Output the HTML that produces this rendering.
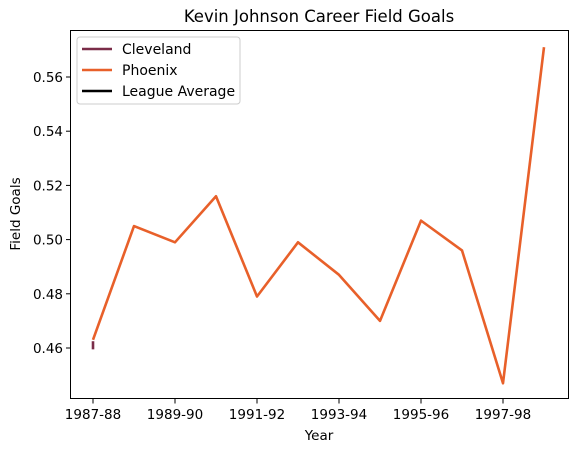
<!DOCTYPE html>
<html><head><meta charset="utf-8"><style>
body{margin:0;background:#fff;font-family:"DejaVu Sans","Liberation Sans",sans-serif;}
svg text{font-family:"DejaVu Sans","Liberation Sans",sans-serif;}
</style></head><body>
<svg id="chart" width="579" height="453">
<text x="319" y="22" font-size="16.5" text-anchor="middle">Kevin Johnson Career Field Goals</text>
<g id="axes"></g>
<g id="series"></g>
<rect x="70.5" y="30.5" width="498" height="368" fill="none" stroke="#000" stroke-width="1"/>
<text x="319" y="440" font-size="13.5" text-anchor="middle">Year</text>
<text x="20" y="214" font-size="13.5" text-anchor="middle" transform="rotate(-90 20 214)">Field Goals</text>
<g>
<rect x="77" y="37" width="163" height="67" rx="3" fill="#fff" fill-opacity="0.8" stroke="#ccc"/>
<line x1="82" y1="49" x2="112" y2="49" stroke="#7a2c48" stroke-width="2.5"/>
<text x="122" y="54" font-size="14">Cleveland</text>
<line x1="82" y1="70" x2="112" y2="70" stroke="#e8602a" stroke-width="2.5"/>
<text x="122" y="75" font-size="14">Phoenix</text>
<line x1="82" y1="91" x2="112" y2="91" stroke="#000" stroke-width="2.5"/>
<text x="122" y="96" font-size="14">League Average</text>
</g>
</svg>
<script>
const seasons=["1987-88","1988-89","1989-90","1990-91","1991-92","1992-93","1993-94","1994-95","1995-96","1996-97","1997-98","1998-99"];
const phoenixIdx=[0,1,2,3,4,5,6,7,8,9,10,11];
const phoenixFG=[0.463,0.505,0.499,0.516,0.479,0.499,0.487,0.470,0.507,0.496,0.447,0.571];
const clevelandIdx=[0,0];
const clevelandFG=[0.4625,0.4595];
const xTickIdx=[0,2,4,6,8,10];
const yTicks=[0.46,0.48,0.50,0.52,0.54,0.56];
const NS="http://www.w3.org/2000/svg";
function xs(i){return 93+i*41;}
function ys(v){return 348-(v-0.46)*2710;}
const ax=document.getElementById('axes'),se=document.getElementById('series');
function mk(t,a,p){const e=document.createElementNS(NS,t);for(const k in a)e.setAttribute(k,a[k]);p.appendChild(e);return e;}
xTickIdx.forEach(i=>{
 const l=mk('line',{x1:xs(i),x2:xs(i),y1:399,y2:403.5,stroke:'#000'},ax);
 
 
 const t=mk('text',{x:xs(i),y:419,'font-size':13.5,'text-anchor':'middle'},ax);t.textContent=seasons[i];
 
 
});
yTicks.forEach(v=>{
 const l=mk('line',{x1:66,x2:70.5,y1:ys(v),y2:ys(v),stroke:'#000'},ax);
 
 
 const t=mk('text',{x:63,y:ys(v)+5,'font-size':13.5,'text-anchor':'end'},ax);t.textContent=v.toFixed(2);
 
 
});
const cl=mk('polyline',{points:clevelandIdx.map((i,k)=>xs(i)+','+ys(clevelandFG[k])).join(' '),fill:'none',stroke:'#7a2c48','stroke-width':2.6},se);


const ph=mk('polyline',{points:phoenixIdx.map((i,k)=>xs(i)+','+ys(phoenixFG[k])).join(' '),fill:'none',stroke:'#e8602a','stroke-width':2.6,'stroke-linejoin':'round'},se);


</script>
</body></html>
